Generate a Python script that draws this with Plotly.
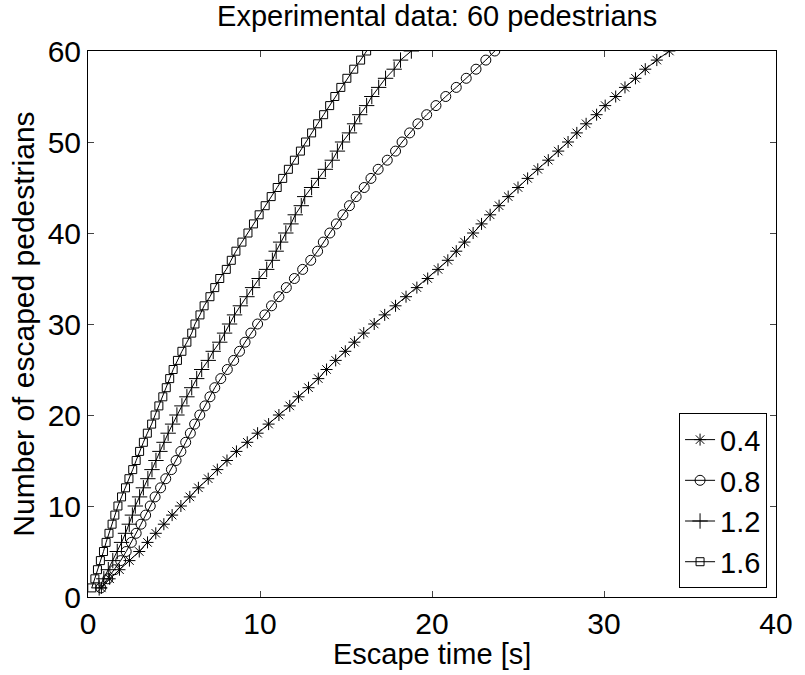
import plotly.graph_objects as go

pedestrians = list(range(1, 61))
series_names = ["0.4", "0.8", "1.2", "1.6"]

t_04 = [0.78, 1.26, 1.83, 2.41, 2.98, 3.46, 3.94, 4.41, 4.89, 5.40,
        5.92, 6.42, 6.99, 7.52, 8.08, 8.63, 9.26, 9.86, 10.50, 11.10,
        11.73, 12.24, 12.82, 13.39, 13.87, 14.40, 14.96, 15.49, 16.03, 16.64,
        17.25, 17.88, 18.49, 19.12, 19.75, 20.35, 20.92, 21.41, 21.89, 22.39,
        22.88, 23.38, 23.90, 24.43, 25.00, 25.56, 26.15, 26.76, 27.34, 27.91,
        28.42, 28.96, 29.57, 30.07, 30.68, 31.22, 31.83, 32.40, 33.07, 33.80]

t_08 = [0.75, 1.15, 1.55, 1.90, 2.22, 2.52, 2.80, 3.08, 3.35, 3.62,
        3.90, 4.22, 4.52, 4.85, 5.12, 5.40, 5.68, 5.95, 6.20, 6.50,
        6.80, 7.09, 7.37, 7.72, 8.10, 8.47, 8.81, 9.13, 9.47, 9.86,
        10.28, 10.67, 11.10, 11.53, 12.00, 12.48, 12.95, 13.35, 13.68, 14.06,
        14.44, 14.82, 15.20, 15.59, 16.06, 16.45, 16.87, 17.40, 17.88, 18.26,
        18.70, 19.18, 19.69, 20.23, 20.80, 21.41, 21.99, 22.56, 23.13, 23.65]

t_12 = [0.65, 0.92, 1.18, 1.44, 1.70, 1.95, 2.18, 2.40, 2.58, 2.75,
        3.00, 3.22, 3.48, 3.72, 3.95, 4.18, 4.42, 4.66, 4.92, 5.17,
        5.46, 5.75, 6.03, 6.32, 6.61, 6.99, 7.28, 7.66, 7.94, 8.23,
        8.52, 8.86, 9.24, 9.57, 9.95, 10.39, 10.72, 10.94, 11.20, 11.50,
        11.80, 12.05, 12.40, 12.60, 13.00, 13.40, 13.80, 14.20, 14.50, 14.80,
        15.20, 15.50, 15.80, 16.20, 16.50, 16.90, 17.30, 17.80, 18.17, 18.80]

t_16 = [0.22, 0.40, 0.55, 0.72, 0.90, 1.05, 1.22, 1.40, 1.56, 1.74,
        1.95, 2.18, 2.38, 2.60, 2.80, 3.00, 3.22, 3.45, 3.70, 3.90,
        4.12, 4.35, 4.55, 4.75, 4.95, 5.20, 5.46, 5.75, 6.03, 6.22,
        6.51, 6.75, 7.09, 7.37, 7.66, 8.04, 8.33, 8.60, 8.95, 9.30,
        9.62, 9.95, 10.30, 10.65, 11.00, 11.32, 11.65, 12.00, 12.35, 12.65,
        13.00, 13.35, 13.70, 14.05, 14.35, 14.70, 15.05, 15.45, 15.85, 16.20]

x_ticks = [0, 10, 20, 30, 40]
y_ticks = [0, 10, 20, 30, 40, 50, 60]

series = [t_04, t_08, t_12, t_16]
symbols = ["asterisk-open", "circle-open", "cross-thin-open", "square-open"]
sizes = [10, 10, 11, 8]

fig = go.Figure()
for name, t, sym, sz in zip(series_names, series, symbols, sizes):
    fig.add_trace(go.Scatter(
        x=t, y=pedestrians, name=name, mode="lines+markers",
        line=dict(color="black", width=1),
        marker=dict(symbol=sym, size=sz, color="black",
                    line=dict(color="black", width=1)),
    ))

font_family = "Liberation Sans, Arial, Helvetica, sans-serif"
fig.update_layout(
    width=805, height=675,
    margin=dict(l=88, r=19, t=51, b=78),
    paper_bgcolor="white", plot_bgcolor="white",
    font=dict(family=font_family, color="black", size=30),
    title=dict(text="Experimental data: 60 pedestrians", x=0.543, xanchor="center",
               y=0.976, yanchor="middle", font=dict(size=29)),
    showlegend=True,
    legend=dict(x=0.987, xanchor="right", y=0.016, yanchor="bottom",
                bordercolor="black", borderwidth=1, bgcolor="white",
                font=dict(size=29), tracegroupgap=0),
    annotations=[dict(text="Escape time [s]", xref="paper", yref="paper",
                      x=0.5, y=-0.104, xanchor="center", yanchor="middle",
                      showarrow=False, font=dict(size=29))],
)
fig.update_xaxes(range=[0, 40], tickvals=x_ticks, ticks="inside", ticklen=6,
                 showline=True, linecolor="black", linewidth=1, mirror="ticks",
                 showgrid=False, zeroline=False, tickfont=dict(size=30))
fig.update_yaxes(range=[0, 60], tickvals=y_ticks, ticks="inside", ticklen=6,
                 showline=True, linecolor="black", linewidth=1, mirror="ticks",
                 showgrid=False, zeroline=False, tickfont=dict(size=30),
                 title=dict(text="Number of escaped pedestrians", font=dict(size=30), standoff=4))

fig.write_html("out.html")
